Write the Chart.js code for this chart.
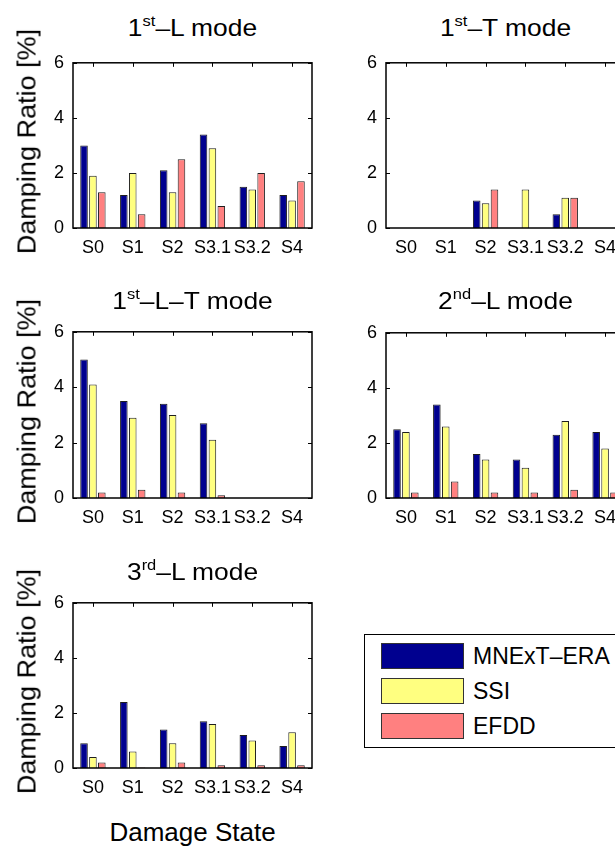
<!DOCTYPE html>
<html>
<head>
<meta charset="utf-8">
<script src="https://cdn.jsdelivr.net/npm/chart.js@4/dist/chart.umd.min.js"></script>
<style>
  html, body { margin: 0; padding: 0; background: #fff; }
  body { width: 615px; height: 849px; position: relative; overflow: hidden;
         font-family: 'Liberation Sans', Arial, Helvetica, sans-serif; color: #000; }
  canvas { position: absolute; }
  .title { position: absolute; text-align: center; font-size: 24px; line-height: 24px; white-space: nowrap;
           transform: scaleX(1.1); }
  .title sup { font-size: 15px; line-height: 0; vertical-align: 10px; }
  .ylabel { position: absolute; text-align: center; font-size: 25px; line-height: 25px;
            height: 25px; white-space: nowrap; transform: rotate(-90deg) scaleX(1.08); transform-origin: 50% 50%; }
  .xlabel { position: absolute; text-align: center; font-size: 26px; line-height: 26px; white-space: nowrap; }
  .legend { position: absolute; left: 364px; top: 634px; width: 300px; height: 114px;
            border: 1.5px solid #000; box-sizing: border-box; background: #fff; }
  .legend .row { position: absolute; left: 16px; height: 26px; display: flex; align-items: center; }
  .legend .sw { width: 83px; height: 26px; box-sizing: border-box; border: 1px solid #333; }
  .legend .txt { margin-left: 9px; font-size: 23px; line-height: 23px; white-space: nowrap; }
</style>
</head>
<body>
<script>
// damage states on the x axis
const states = ['S0', 'S1', 'S2', 'S3.1', 'S3.2', 'S4'];
const yTicks = [0, 2, 4, 6];

// identification methods
const methods = ['MNExT\u2013ERA', 'SSI', 'EFDD'];
const methodColors = ['#00008f', '#ffff80', '#ff8080'];

// damping ratio [%] per mode and method (null = mode not identified)
const mode1L_era  = [3.0, 1.2, 2.1, 3.4, 1.5, 1.2];
const mode1L_ssi  = [1.9, 2.0, 1.3, 2.9, 1.4, 1.0];
const mode1L_efdd = [1.3, 0.5, 2.5, 0.8, 2.0, 1.7];

const mode1T_era  = [null, null, 1.0, null, 0.5, null];
const mode1T_ssi  = [null, null, 0.9, 1.4, 1.1, null];
const mode1T_efdd = [null, null, 1.4, null, 1.1, null];

const mode1LT_era  = [5.0, 3.5, 3.4, 2.7, null, null];
const mode1LT_ssi  = [4.1, 2.9, 3.0, 2.1, null, null];
const mode1LT_efdd = [0.2, 0.3, 0.2, 0.1, null, null];

const mode2L_era  = [2.5, 3.4, 1.6, 1.4, 2.3, 2.4];
const mode2L_ssi  = [2.4, 2.6, 1.4, 1.1, 2.8, 1.8];
const mode2L_efdd = [0.2, 0.6, 0.2, 0.2, 0.3, 0.2];

const mode3L_era  = [0.9, 2.4, 1.4, 1.7, 1.2, 0.8];
const mode3L_ssi  = [0.4, 0.6, 0.9, 1.6, 1.0, 1.3];
const mode3L_efdd = [0.2, 0.02, 0.2, 0.1, 0.1, 0.1];

// panel layout: plot box in page pixels, title centre line
const panels = [
  { ord: '1', sup: 'st', rest: '\u2013L mode',   data: [mode1L_era, mode1L_ssi, mode1L_efdd],    box: [73, 55, 239, 173],  titleY: 28,  ylab: true },
  { ord: '1', sup: 'st', rest: '\u2013T mode',   data: [mode1T_era, mode1T_ssi, mode1T_efdd],    box: [386, 55, 239, 173], titleY: 28,  ylab: false },
  { ord: '1', sup: 'st', rest: '\u2013L\u2013T mode', data: [mode1LT_era, mode1LT_ssi, mode1LT_efdd], box: [73, 324, 239, 174], titleY: 301, ylab: true },
  { ord: '2', sup: 'nd', rest: '\u2013L mode',   data: [mode2L_era, mode2L_ssi, mode2L_efdd],    box: [386, 325, 239, 173], titleY: 301, ylab: false },
  { ord: '3', sup: 'rd', rest: '\u2013L mode',   data: [mode3L_era, mode3L_ssi, mode3L_efdd],    box: [73, 595, 239, 173], titleY: 572, ylab: true }
];

const AX_W = 36, AX_H = 34, PAD_T = 12, PAD_R = 14;
const FONT = "'Liberation Sans', Arial, Helvetica, sans-serif";

// MATLAB-like axes: full box, inward ticks left/right and along the top
const axesBox = {
  id: 'axesBox',
  afterDatasetsDraw(chart) {
    const { ctx, chartArea: a, scales: { x, y } } = chart;
    ctx.save();
    ctx.strokeStyle = '#000';
    ctx.lineWidth = 1;
    ctx.beginPath();
    y.ticks.forEach(t => {
      const py = Math.round(y.getPixelForValue(t.value)) + 0.5;
      ctx.moveTo(a.left, py); ctx.lineTo(a.left + 4, py);
      ctx.moveTo(a.right, py); ctx.lineTo(a.right - 4, py);
    });
    x.ticks.forEach((t, i) => {
      const px = Math.round(x.getPixelForTick(i)) + 0.5;
      ctx.moveTo(px, a.top); ctx.lineTo(px, a.top + 4);
    });
    ctx.stroke();
    ctx.lineWidth = 1.5;
    ctx.strokeRect(a.left, a.top, a.right - a.left, a.bottom - a.top);
    ctx.restore();
  }
};

function addDiv(cls, html, style) {
  const d = document.createElement('div');
  d.className = cls;
  d.innerHTML = html;
  Object.assign(d.style, style);
  document.body.appendChild(d);
  return d;
}

panels.forEach(p => {
  const [left, top, w, h] = p.box;
  const canvas = document.createElement('canvas');
  canvas.width = AX_W + w + PAD_R;
  canvas.height = PAD_T + h + AX_H;
  canvas.style.left = (left - AX_W) + 'px';
  canvas.style.top = (top - PAD_T) + 'px';
  document.body.appendChild(canvas);

  new Chart(canvas.getContext('2d'), {
    type: 'bar',
    data: {
      labels: states,
      datasets: methods.map((m, i) => ({
        label: m,
        data: p.data[i],
        backgroundColor: methodColors[i],
        borderColor: '#1e1e1e',
        borderWidth: 1,
        categoryPercentage: 0.67,
        barPercentage: 0.85
      }))
    },
    options: {
      responsive: false,
      animation: false,
      devicePixelRatio: 1,
      layout: { padding: { top: PAD_T, right: PAD_R, left: 0, bottom: 0 } },
      plugins: { legend: { display: false }, tooltip: { enabled: false } },
      scales: {
        x: {
          offset: true,
          grid: { display: false, drawTicks: false },
          border: { display: false },
          ticks: { color: '#000', font: { family: FONT, size: 18 }, padding: 9,
                   maxRotation: 0, minRotation: 0, autoSkip: false },
          afterFit: s => { s.height = AX_H; }
        },
        y: {
          min: 0,
          max: 6,
          grid: { display: false, drawTicks: false },
          border: { display: false },
          afterBuildTicks: s => { s.ticks = yTicks.map(v => ({ value: v })); },
          ticks: { color: '#000', font: { family: FONT, size: 18 }, padding: 9 },
          afterFit: s => { s.width = AX_W; }
        }
      }
    },
    plugins: [axesBox]
  });

  addDiv('title', p.ord + '<sup>' + p.sup + '</sup>' + p.rest,
    { left: left + 'px', width: w + 'px', top: (p.titleY - 12) + 'px' });

  if (p.ylab) {
    const lw = 260;
    addDiv('ylabel', 'Damping Ratio [%]',
      { left: (27 - lw / 2) + 'px', width: lw + 'px', top: (top + h / 2 - 12.5) + 'px' });
  }
});

addDiv('xlabel', 'Damage State', { left: '73px', width: '239px', top: '819px' });

// legend box
const legend = addDiv('legend', '', {});
methods.forEach((m, i) => {
  const row = document.createElement('div');
  row.className = 'row';
  row.style.top = (8 + i * 35) + 'px';
  row.innerHTML = '<div class="sw" style="background:' + methodColors[i] + '"></div><div class="txt">' + m + '</div>';
  legend.appendChild(row);
});
</script>
</body>
</html>
